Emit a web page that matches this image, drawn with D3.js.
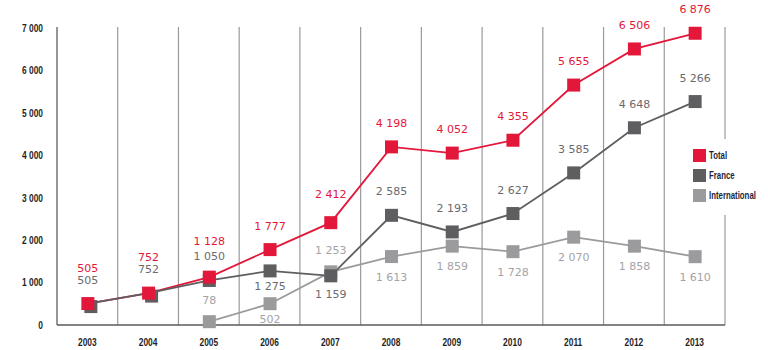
<!DOCTYPE html>
<html><head><meta charset="utf-8">
<script src="https://cdn.jsdelivr.net/npm/d3@7"></script>
<style>
body{margin:0;background:#fff;}
svg{display:block;}
.ax text{font-family:"Liberation Sans",Arial,sans-serif;font-weight:bold;font-size:10.5px;fill:#1f1f28;}
.val{font-family:"DejaVu Sans",Verdana,sans-serif;font-size:11px;text-anchor:middle;}
.leg{font-family:"Liberation Sans",Arial,sans-serif;font-weight:bold;font-size:11px;fill:#1f1f3a;}
</style></head>
<body>
<svg id="c" width="768" height="350"></svg>
<script>
const years = ["2003","2004","2005","2006","2007","2008","2009","2010","2011","2012","2013"];
const total = [505,752,1128,1777,2412,4198,4052,4355,5655,6506,6876];
const france = [505,752,1050,1275,1159,2585,2193,2627,3585,4648,5266];
const international = [null,null,78,502,1253,1613,1859,1728,2070,1858,1610];
const yTicks = [0,1000,2000,3000,4000,5000,6000,7000];
const seriesNames = ["Total","France","International"];

const colors = {Total:"#e3173a", France:"#5e5e61", International:"#9b9b9d"};
const labelColors = {Total:"#e3173a", France:"#6a6a6e", International:"#a3a3a6"};

const svg = d3.select("#c");
const x = d3.scaleBand().domain(years).range([57,725]);
const y = d3.scaleLinear().domain([0,7000]).range([325,28]);
const fmt = d3.formatLocale({decimal:",",thousands:" ",grouping:[3],currency:["",""]}).format(",d");

function narrow(sel,k){
  sel.each(function(){
    const w = this.getComputedTextLength();
    d3.select(this).attr("textLength",w*k).attr("lengthAdjust","spacingAndGlyphs");
  });
}

const edges = years.map(d=>x(d)).concat([x.range()[1]]);
svg.append("g").selectAll("line").data(edges.slice(1)).join("line")
  .attr("x1",d=>d).attr("x2",d=>d).attr("y1",y(7000)-1).attr("y2",y(0))
  .attr("stroke","#9a9a9a").attr("stroke-width",1.2);
svg.append("line").attr("x1",x.range()[0]).attr("x2",x.range()[0]).attr("y1",y(7000)-1).attr("y2",y(0))
  .attr("stroke","#6a6a6a").attr("stroke-width",1.4);
svg.append("line").attr("x1",x.range()[0]).attr("x2",x.range()[1]).attr("y1",y(0)).attr("y2",y(0))
  .attr("stroke","#5a5a5a").attr("stroke-width",1.6);

const ya = svg.append("g").attr("class","ax").attr("transform","translate(43,0)")
  .call(d3.axisLeft(y).tickValues(yTicks).tickSize(0).tickPadding(0).tickFormat(fmt));
ya.select(".domain").remove();
ya.selectAll("text").call(narrow,0.8);
const xa = svg.append("g").attr("class","ax").attr("transform",`translate(0,${y(0)})`)
  .call(d3.axisBottom(x).tickSize(0).tickPadding(14));
xa.select(".domain").remove();
xa.selectAll("text").call(narrow,0.8);

const cx = d=>x(d)+x.bandwidth()/2+0.5;
const dataOf = {Total:total, France:france, International:international};
function pts(name){ return years.map((yr,i)=>({yr,i,v:dataOf[name][i]})).filter(p=>p.v!=null); }

const line = d3.line().x(p=>cx(p.yr)).y(p=>y(p.v));
["International","Total","France"].forEach(name=>{
  svg.append("path").datum(pts(name)).attr("d",line).attr("fill","none")
    .attr("stroke",colors[name]).attr("stroke-width",1.8);
});
const ms = 13;
["International","France","Total"].forEach(name=>{
  svg.append("g").selectAll("rect").data(pts(name)).join("rect")
    .attr("x",p=>cx(p.yr)-ms/2 + (name==="France"&&p.i<2?3:0))
    .attr("y",p=>y(p.v)-ms/2 + (name==="France"&&p.i<2?3:0))
    .attr("width",ms).attr("height",ms).attr("fill",colors[name]);
});

function labelOffset(name,i){
  if(name==="Total") return (i<=2)?-36:(i===4?-29:-24);
  if(name==="France") return i===3?+15:(i===4?+18:-24);
  if(name==="International") return i===3?+15:((i===2||i===4)?-22:+20);
}
seriesNames.forEach(name=>{
  svg.append("g").selectAll("text").data(pts(name)).join("text")
    .attr("class","val").attr("x",p=>cx(p.yr)).attr("y",p=>y(p.v)+labelOffset(name,p.i))
    .attr("dy","0.36em").attr("fill",labelColors[name]).text(p=>fmt(p.v));
});

const lg = svg.append("g");
lg.append("rect").attr("x",686).attr("y",139).attr("width",82).attr("height",76).attr("fill","#fff");
const legItems = [];
seriesNames.forEach((name,i)=>{
  lg.append("rect").attr("x",693).attr("y",149+i*20).attr("width",13).attr("height",13).attr("fill",colors[name]);
  const g = lg.append("g").attr("transform",`translate(709,${155.5+i*20})`);
  legItems.push(g.append("text").attr("class","leg").attr("x",0).attr("y",0).attr("dy","0.35em").text(name));
});
const wIntl = legItems[2].node().getComputedTextLength();
const k = 47/wIntl;
lg.selectAll("g").each(function(d,i){
  d3.select(this).attr("transform",`translate(709,${155.5+i*20}) scale(${k},1)`);
});
</script>
</body></html>
